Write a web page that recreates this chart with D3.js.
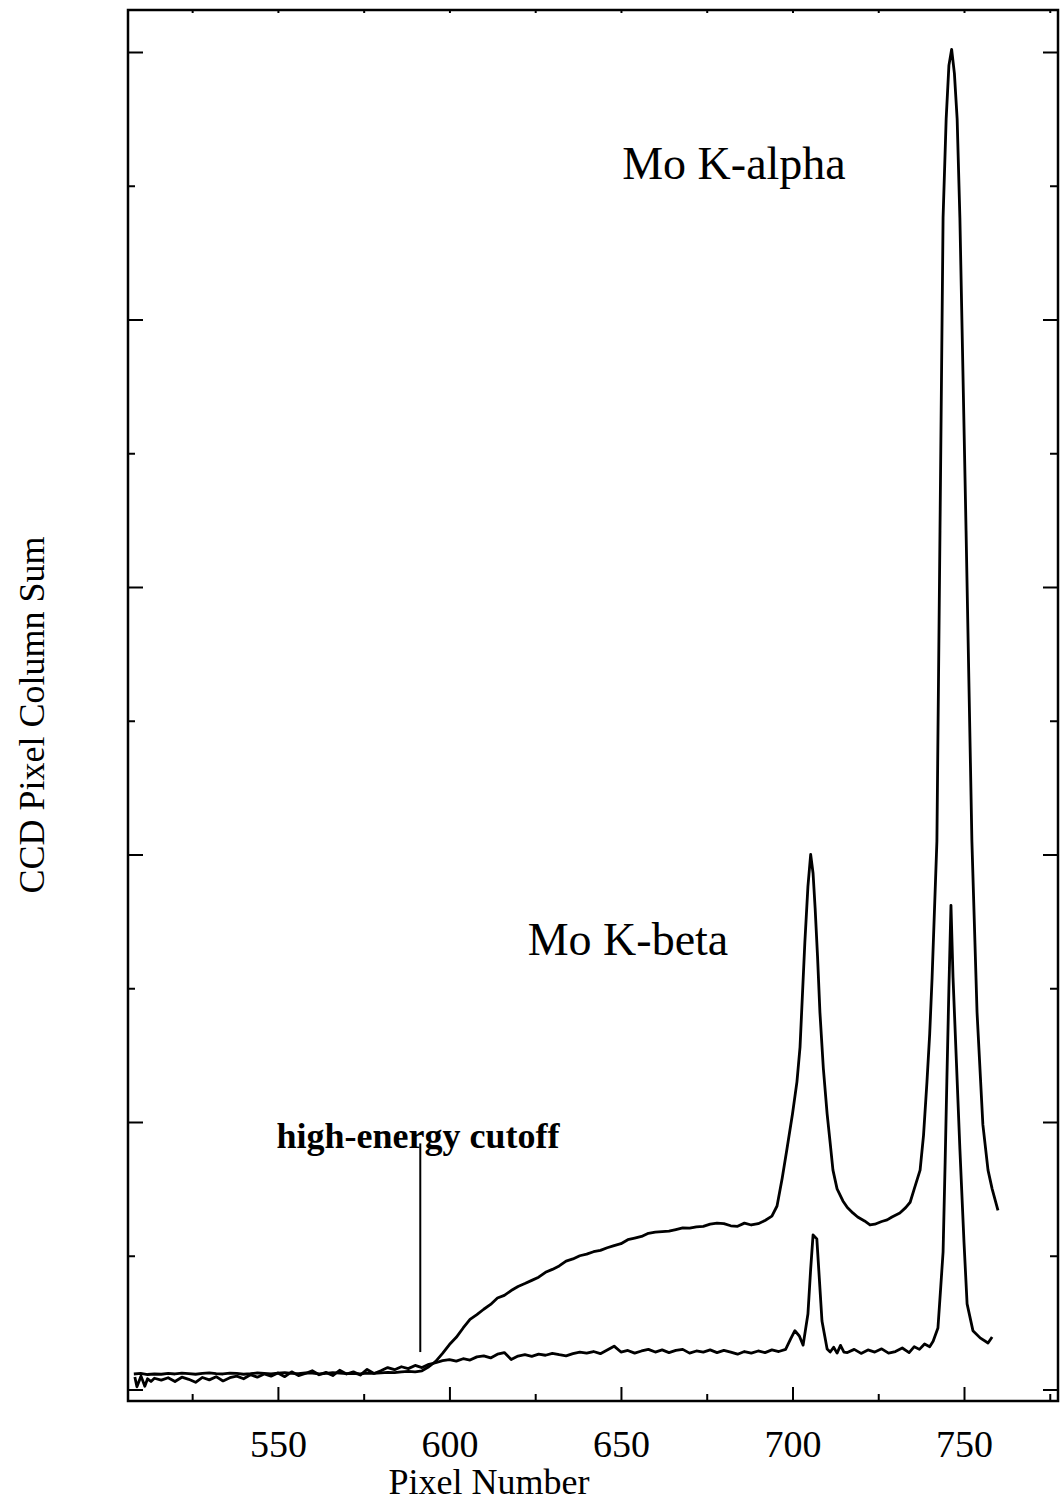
<!DOCTYPE html>
<html>
<head>
<meta charset="utf-8">
<script src="https://cdn.jsdelivr.net/npm/d3@7"></script>
<style>
  html, body { margin: 0; padding: 0; background: #fff; }
  svg { display: block; }
  text { font-family: "Liberation Serif", "Times New Roman", serif; fill: #000; }
</style>
</head>
<body>
<svg id="chart" width="1062" height="1501"></svg>
<script>
// ---------------- data ----------------
const xTickValues = [550, 600, 650, 700, 750];
const xMinorTickValues = [525, 575, 625, 675, 725, 775];
const yTickValues = [0, 1, 2, 3, 4, 5];
const yMinorTickValues = [0.5, 1.5, 2.5, 3.5, 4.5];

// Upper spectrum (with strong K-alpha / K-beta peaks)
const upperX = [508,510,512,514,516,518,520,522,524,526,528,530,532,534,536,538,540,542,544,546,548,550,552,554,556,558,560,562,564,566,568,570,572,574,576,578,580,582,584,586,588,590,592,594,596,598,600,602,604,606,608,610,612,614,616,618,620,622,624,626,628,630,632,634,636,638,640,642,644,646,648,650,652,654,656,658,660,662,664,666,668,670,672,674,676,678,680,682,684,686,688,690,692,694,695.5,697,698.4,700,701.3,702.2,703.6,704.5,705.3,706,706.6,707.3,708,709,710.1,711,711.8,713,714.7,716,717.6,719,721,722.6,724,726,727.6,729,731.3,733,734.3,735.5,737.2,738.2,739.2,740,740.7,742.1,743,743.9,744.8,745.6,746.4,747.2,748,748.8,750.6,752.3,753.8,755.5,757,758.2,759.9];
const upperY = [0.058,0.060,0.056,0.058,0.057,0.060,0.058,0.061,0.059,0.057,0.060,0.062,0.059,0.058,0.061,0.060,0.057,0.059,0.062,0.060,0.058,0.061,0.063,0.060,0.059,0.062,0.061,0.058,0.060,0.063,0.061,0.059,0.060,0.058,0.061,0.060,0.062,0.064,0.063,0.066,0.068,0.066,0.070,0.085,0.105,0.135,0.168,0.195,0.230,0.262,0.280,0.300,0.318,0.342,0.352,0.370,0.385,0.396,0.408,0.420,0.438,0.449,0.462,0.480,0.488,0.500,0.506,0.515,0.520,0.530,0.538,0.545,0.560,0.566,0.572,0.584,0.588,0.590,0.592,0.598,0.604,0.603,0.608,0.610,0.618,0.622,0.620,0.612,0.610,0.622,0.615,0.620,0.632,0.648,0.686,0.79,0.90,1.03,1.15,1.28,1.67,1.88,2.00,1.93,1.80,1.62,1.41,1.20,1.03,0.92,0.82,0.75,0.705,0.68,0.66,0.645,0.63,0.615,0.618,0.628,0.634,0.645,0.66,0.68,0.70,0.75,0.82,0.95,1.15,1.33,1.54,2.05,3.21,4.38,4.75,4.95,5.01,4.92,4.75,4.38,3.21,2.05,1.41,0.99,0.82,0.75,0.67];

// Lower spectrum (weak background with narrow peaks)
const lowerX = [508.3,508.9,510.1,511.2,512,513,514,516,518,520,522,524,526,528,530,532,534,536,538,540,542,544,546,548,550,552,554,556,558,560,562,564,566,568,570,572,574,576,578,580,582,584,586,588,590,592,594,596,598,600,602,604,606,608,610,612,614,616,618,620,622,624,626,628,630,632,634,636,638,640,642,644,646,648,650,652,654,656,658,660,662,664,666,668,670,672,674,676,678,680,682,684,686,688,690,692,694,696,698,699.5,700.7,702,703.1,704.5,705.3,706,707.1,707.8,708.6,710.1,711,712,713,714,715,716,718,720,722,724,726,728,730,732,734,735.5,737,738.5,740,741,742.4,743.2,743.9,744.5,745,745.6,746.2,746.8,747.8,748.8,750,750.9,752.6,754.7,757,758.2];
const lowerY = [0.047,0.010,0.050,0.012,0.040,0.030,0.042,0.035,0.044,0.030,0.046,0.038,0.027,0.045,0.036,0.048,0.032,0.044,0.050,0.040,0.055,0.046,0.058,0.050,0.062,0.048,0.066,0.052,0.060,0.070,0.055,0.064,0.052,0.072,0.058,0.066,0.054,0.075,0.060,0.070,0.082,0.074,0.085,0.078,0.090,0.082,0.094,0.100,0.108,0.112,0.106,0.115,0.110,0.122,0.126,0.118,0.132,0.138,0.112,0.125,0.130,0.124,0.132,0.128,0.135,0.130,0.126,0.134,0.140,0.136,0.142,0.134,0.148,0.162,0.140,0.146,0.136,0.144,0.150,0.140,0.148,0.138,0.146,0.150,0.136,0.144,0.140,0.148,0.138,0.146,0.140,0.132,0.142,0.136,0.144,0.138,0.148,0.142,0.150,0.190,0.220,0.200,0.166,0.282,0.45,0.578,0.563,0.42,0.256,0.151,0.140,0.158,0.136,0.165,0.140,0.138,0.150,0.135,0.148,0.140,0.152,0.136,0.142,0.155,0.138,0.160,0.150,0.170,0.160,0.180,0.230,0.38,0.514,0.85,1.153,1.50,1.81,1.54,1.22,0.899,0.55,0.32,0.22,0.193,0.174,0.196];

const labels = [
  { text: "Mo K-alpha", x: 734, y: 168 },
  { text: "Mo K-beta",  x: 628, y: 944 }
];
const cutoffX = 591.5;
const cutoffTop = 0.92;
const cutoffBottom = 0.14;

// ---------------- layout ----------------
const svg = d3.select("#chart");
const mLeft = 128, mRight = 1058, mTop = 10, mBottom = 1401;

const x = d3.scaleLinear().domain([506.3, 777.4]).range([mLeft, mRight]);
const y = d3.scaleLinear().domain([-0.043, 5.157]).range([mBottom, mTop]);

function styleAxis(g) {
  g.select(".domain").remove();
  g.selectAll(".tick line").attr("stroke", "#000").attr("stroke-width", 2);
}

svg.append("g").attr("transform", `translate(0,${mBottom})`)
  .call(d3.axisBottom(x).tickValues(xTickValues).tickSize(-14).tickFormat(d3.format("d")))
  .call(styleAxis)
  .call(g => g.selectAll("text")
      .attr("y", 56).attr("dy", 0)
      .style("font-family", '"Liberation Serif", "Times New Roman", serif')
      .style("font-size", "38px").attr("fill", "#000"));
svg.append("g").attr("transform", `translate(0,${mBottom})`)
  .call(d3.axisBottom(x).tickValues(xMinorTickValues).tickSize(-7).tickFormat(""))
  .call(styleAxis);
svg.append("g").attr("transform", `translate(0,${mTop})`)
  .call(d3.axisTop(x).tickValues(xTickValues.concat(xMinorTickValues)).tickSize(-3).tickFormat(""))
  .call(styleAxis);

svg.append("g").attr("transform", `translate(${mLeft},0)`)
  .call(d3.axisLeft(y).tickValues(yTickValues).tickSize(-15).tickFormat(""))
  .call(styleAxis);
svg.append("g").attr("transform", `translate(${mLeft},0)`)
  .call(d3.axisLeft(y).tickValues(yMinorTickValues).tickSize(-7).tickFormat(""))
  .call(styleAxis);
svg.append("g").attr("transform", `translate(${mRight},0)`)
  .call(d3.axisRight(y).tickValues(yTickValues).tickSize(-15).tickFormat(""))
  .call(styleAxis);
svg.append("g").attr("transform", `translate(${mRight},0)`)
  .call(d3.axisRight(y).tickValues(yMinorTickValues).tickSize(-8).tickFormat(""))
  .call(styleAxis);

svg.append("rect")
  .attr("x", mLeft).attr("y", mTop)
  .attr("width", mRight - mLeft).attr("height", mBottom - mTop)
  .attr("fill", "none").attr("stroke", "#000").attr("stroke-width", 2.5);

const line = d3.line().x(d => x(d[0])).y(d => y(d[1]));
svg.append("path")
  .datum(upperX.map((v, i) => [v, upperY[i]]))
  .attr("d", line).attr("fill", "none").attr("stroke", "#000")
  .attr("stroke-width", 2.8).attr("stroke-linejoin", "round");
svg.append("path")
  .datum(lowerX.map((v, i) => [v, lowerY[i]]))
  .attr("d", line).attr("fill", "none").attr("stroke", "#000")
  .attr("stroke-width", 2.8).attr("stroke-linejoin", "round");

svg.append("line")
  .attr("x1", x(cutoffX)).attr("x2", x(cutoffX))
  .attr("y1", y(cutoffTop)).attr("y2", y(cutoffBottom))
  .attr("stroke", "#000").attr("stroke-width", 2);
svg.append("text")
  .attr("x", 418).attr("y", 1148)
  .attr("text-anchor", "middle")
  .style("font-size", "36px").style("font-weight", "bold")
  .text("high-energy cutoff");

svg.selectAll("text.peak").data(labels).enter().append("text")
  .attr("class", "peak")
  .attr("x", d => d.x).attr("y", d => d.y)
  .attr("text-anchor", "middle").attr("dominant-baseline", "middle")
  .style("font-size", "46px")
  .text(d => d.text);

svg.append("text")
  .attr("x", 489).attr("y", 1494)
  .attr("text-anchor", "middle")
  .style("font-size", "36px")
  .text("Pixel Number");
svg.append("text")
  .attr("transform", "translate(44,715) rotate(-90)")
  .attr("text-anchor", "middle")
  .style("font-size", "36px")
  .text("CCD Pixel Column Sum");
</script>
</body>
</html>
